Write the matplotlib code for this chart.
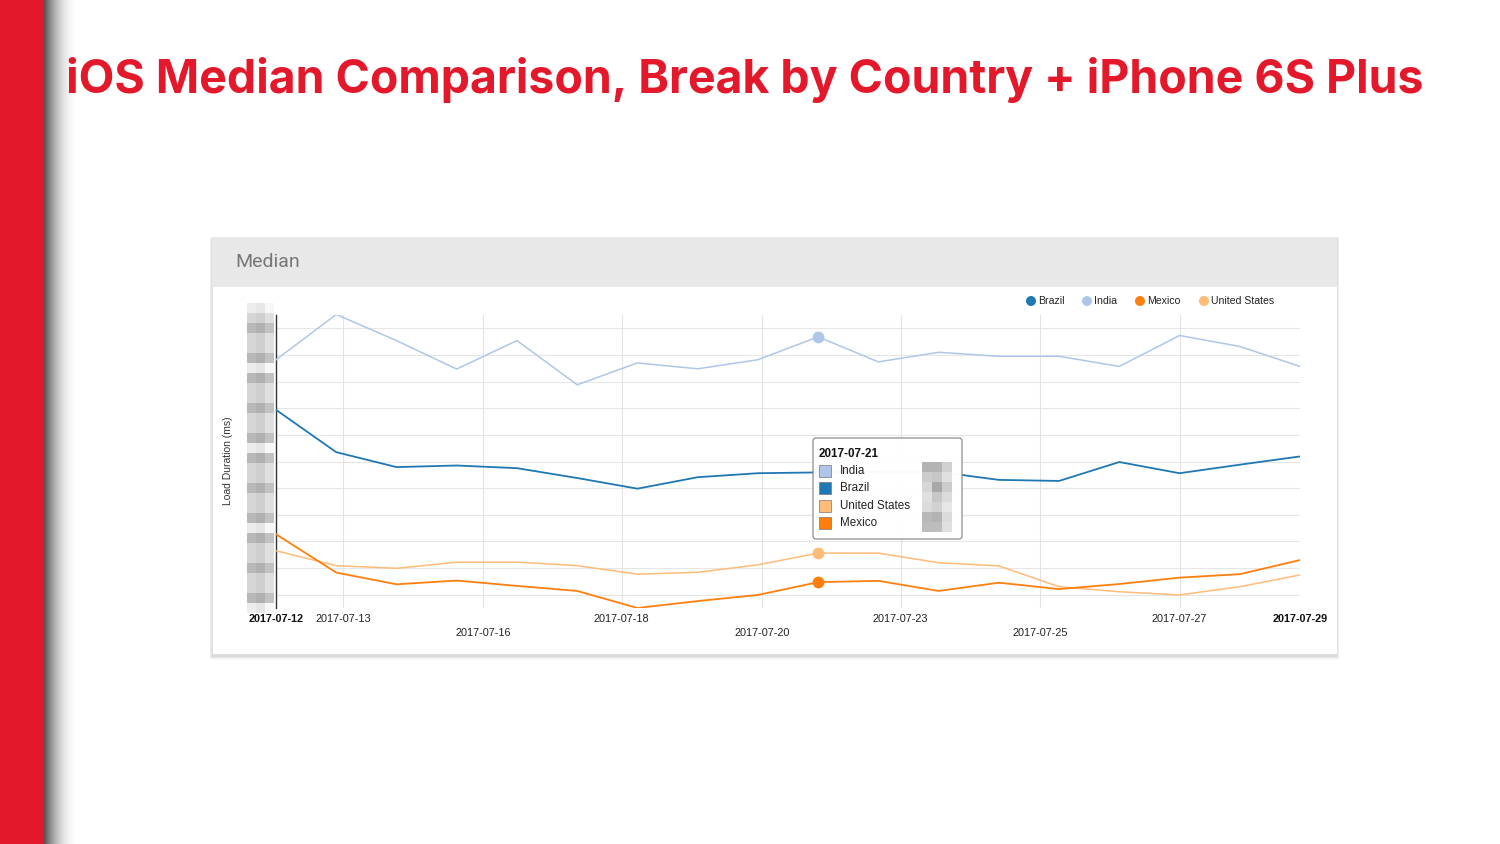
import matplotlib
matplotlib.use("Agg")
import matplotlib.pyplot as plt
import numpy as np
from matplotlib.patches import Rectangle, FancyBboxPatch, Circle

# ---------------- data (y-axis values are hidden in the
# original, so they are expressed in grid-step units) ----------------
dates = ["2017-07-12", "2017-07-13", "2017-07-14", "2017-07-15", "2017-07-16", "2017-07-17",
         "2017-07-18", "2017-07-19", "2017-07-20", "2017-07-21", "2017-07-22", "2017-07-23",
         "2017-07-24", "2017-07-25", "2017-07-26", "2017-07-27", "2017-07-28", "2017-07-29"]
india = [9.32, 11.02, 10.04, 8.97, 10.04, 8.38, 9.20, 8.98, 9.32, 10.18, 9.24, 9.60,
         9.45, 9.45, 9.07, 10.23, 9.82, 9.07]
brazil = [7.44, 5.85, 5.29, 5.35, 5.25, 4.88, 4.48, 4.91, 5.06, 5.09, 5.11, 5.11,
          4.81, 4.77, 5.48, 5.06, 5.38, 5.69]
united_states = [2.15, 1.59, 1.49, 1.72, 1.72, 1.59, 1.27, 1.34, 1.62, 2.06, 2.06, 1.70,
                 1.58, 0.80, 0.61, 0.49, 0.80, 1.24]
mexico = [2.77, 1.33, 0.89, 1.03, 0.83, 0.64, 0.00, 0.26, 0.49, 0.97, 1.02, 0.64,
          0.95, 0.71, 0.90, 1.14, 1.27, 1.80]

row1_labels = ["2017-07-12", "2017-07-13", "2017-07-18", "2017-07-23", "2017-07-27", "2017-07-29"]
row1_ticks = [0, 1.11, 5.74, 10.37, 15.0, 17]
row2_labels = ["2017-07-16", "2017-07-20", "2017-07-25"]
row2_ticks = [3.44, 8.07, 12.68]
grid_y = [0.5, 1.5, 2.5, 3.5, 4.5, 5.5, 6.5, 7.5, 8.5, 9.5, 10.5]

legend_names = ["Brazil", "India", "Mexico", "United States"]
tooltip_date = "2017-07-21"
tooltip_names = ["India", "Brazil", "United States", "Mexico"]

title = "iOS Median Comparison, Break by Country + iPhone 6S Plus"
panel_title = "Median"
y_label = "Load Duration (ms)"

colors = {"Brazil": "#1f77b4", "India": "#aec7e8", "Mexico": "#ff7f0e", "United States": "#ffbb78"}
RED = "#E3192B"

W, H = 1500, 844
fig = plt.figure(figsize=(W / 100, H / 100), dpi=100)
fig.patch.set_facecolor("white")

# ---------------- background / decoration axes in pixel coordinates ----------------
bg = fig.add_axes([0, 0, 1, 1], zorder=0)
bg.set_xlim(0, W)
bg.set_ylim(H, 0)
bg.axis("off")

bg.add_patch(Rectangle((0, 0), 44, H, color=RED, lw=0, zorder=2))
# shadow gradient right of the red bar
gw = 36
t = np.linspace(0, 1, gw)
shade = 0.33 + 0.67 * (1 - (1 - t) ** 2.2)
grad = np.tile(shade, (2, 1))
bg.imshow(np.dstack([grad, grad, grad]), extent=[44, 44 + gw, H, 0], aspect="auto", zorder=1,
          interpolation="bilinear")
bg.set_xlim(0, W)
bg.set_ylim(H, 0)

# title
tt = bg.text(66, 93, title, color=RED, fontsize=34, fontweight="bold", family="Inter",
             ha="left", va="baseline", zorder=3)
fig.canvas.draw()
ext = tt.get_window_extent()
tt.set_fontsize(34 * 1359 / ext.width)

# panel with shadow
px0, py0, pw, ph = 212, 237, 1125, 417
for i in range(1, 7):
    bg.add_patch(Rectangle((px0 - i * 0.4, py0 - i * 0.2 + 2), pw + i * 0.8, ph + i * 0.8,
                           color="black", alpha=0.022, lw=0, zorder=2))
bg.add_patch(Rectangle((px0, py0), pw, ph, facecolor="white", edgecolor="#dcdcdc", lw=0.6, zorder=3))
bg.add_patch(Rectangle((px0, py0), pw, 50, facecolor="#e8e8e8", edgecolor="none", lw=0, zorder=4))
bg.text(235, 262, panel_title, fontsize=14, family="Roboto", color="#777777", ha="left",
        va="center", zorder=5)

# pixelated (blurred) y tick labels
rows = np.arange(303, 613, 10)
ymin_px, ymax_px = 608, 315
yunit = (ymin_px - ymax_px) / 11.0
gpix = [ymin_px - g * yunit for g in grid_y]
col_shift = [0.0, -0.03, 0.04]
for r in rows:
    d = min(abs(r + 5 - gp) for gp in gpix)
    base = 0.72 if d < 6 else (0.84 if d < 11 else 0.93)
    for ci, cx in enumerate([247, 256, 265]):
        v = min(0.97, max(0.6, base + col_shift[ci]))
        bg.add_patch(Rectangle((cx, r), 9, 10, color=(v, v, v), lw=0, zorder=5))

bg.text(228, 461, y_label, rotation=90, fontsize=7.5, family="Liberation Sans", color="#333333",
        ha="center", va="center", zorder=5)

# ---------------- the chart itself ----------------
left, right, top, bottom = 276, 1300, 315, 608
ax = fig.add_axes([left / W, 1 - bottom / H, (right - left) / W, (bottom - top) / H], zorder=2)
ax.set_facecolor("none")
x = np.arange(len(dates))
ax.set_xlim(0, len(dates) - 1)
ax.set_ylim(0, 11)

for g in grid_y:
    ax.axhline(g, color="#e6e6e6", lw=0.8, zorder=0)
for tpos in row1_ticks[1:-1] + row2_ticks:
    ax.axvline(tpos, color="#e3e3e3", lw=0.8, zorder=0)

ax.plot(x, india, color=colors["India"], lw=1.1, zorder=3, solid_joinstyle="round")
ax.plot(x, brazil, color=colors["Brazil"], lw=1.3, zorder=3, solid_joinstyle="round")
ax.plot(x, united_states, color=colors["United States"], lw=1.1, zorder=3, solid_joinstyle="round")
ax.plot(x, mexico, color=colors["Mexico"], lw=1.3, zorder=3, solid_joinstyle="round")

hi = dates.index(tooltip_date)
for series, name in [(india, "India"), (brazil, "Brazil"), (united_states, "United States"),
                     (mexico, "Mexico")]:
    ax.plot(x[hi], series[hi], "o", ms=8.5, color=colors[name], mec="none", zorder=4, clip_on=False)

for s in ["top", "right", "bottom"]:
    ax.spines[s].set_visible(False)
ax.spines["left"].set_color("#333333")
ax.spines["left"].set_linewidth(1.0)
ax.set_yticks([])

ax.set_xticks(row1_ticks)
ax.set_xticklabels(row1_labels)
ax.set_xticks(row2_ticks, minor=True)
ax.set_xticklabels(row2_labels, minor=True)
ax.tick_params(axis="x", which="major", length=0, pad=4, labelsize=7.8, labelcolor="#222222")
ax.tick_params(axis="x", which="minor", length=0, pad=14.5, labelsize=7.8, labelcolor="#222222")
for lab in ax.get_xticklabels() + ax.get_xticklabels(minor=True):
    lab.set_family("Liberation Sans")
labs = ax.get_xticklabels()
labs[0].set_fontweight("bold")
labs[-1].set_fontweight("bold")
labs[0].set_color("#111111")
labs[-1].set_color("#111111")

# ---------------- overlay: legend and tooltip (pixel coords) ----------------
ov = fig.add_axes([0, 0, 1, 1], zorder=6)
ov.set_xlim(0, W)
ov.set_ylim(H, 0)
ov.axis("off")
ov.patch.set_alpha(0)

leg_x = [1031, 1087, 1140, 1204]
for name, lx in zip(legend_names, leg_x):
    ov.add_patch(Circle((lx, 301), 5, color=colors[name], lw=0))
    ov.text(lx + 7, 301, name, fontsize=7.6, family="Liberation Sans", color="#222222",
            ha="left", va="center")

ov.add_patch(FancyBboxPatch((813, 438), 149, 101, boxstyle="round,pad=0,rounding_size=3",
                            facecolor="white", edgecolor="#8a8a8a", lw=0.9, alpha=0.97))
ov.text(819, 454, tooltip_date, fontsize=8.4, fontweight="bold", family="Liberation Sans",
        color="#111111", ha="left", va="center")
row_y = [471, 488, 506, 523]
for name, ry in zip(tooltip_names, row_y):
    c = colors[name]
    ov.add_patch(Rectangle((819, ry - 6), 12, 12, facecolor=c, edgecolor="#777777", lw=0.5))
    ov.text(840, ry, name, fontsize=8.4, family="Liberation Sans", color="#222222",
            ha="left", va="center")
# pixelated values in tooltip
tip_cols = [922, 932, 942]
tip_shades = [[0.70, 0.70, 0.82], [0.80, 0.78, 0.88], [0.84, 0.66, 0.80], [0.88, 0.78, 0.86],
              [0.86, 0.82, 0.90], [0.72, 0.70, 0.86], [0.74, 0.74, 0.88]]
for ri, rowv in enumerate(tip_shades):
    for ci, v in enumerate(rowv):
        ov.add_patch(Rectangle((tip_cols[ci], 462 + ri * 10), 10, 10, color=(v, v, v), lw=0))

fig.savefig("out.png", dpi=100, facecolor="white")
